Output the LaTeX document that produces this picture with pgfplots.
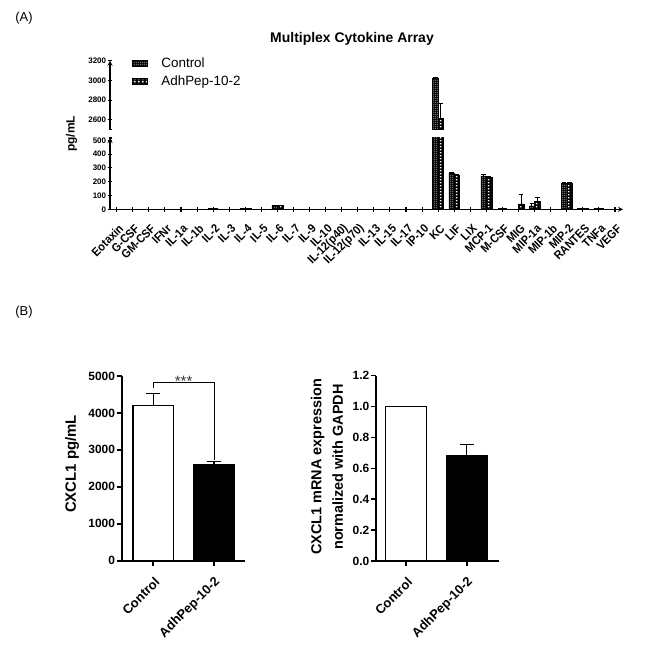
\documentclass[border=0pt]{standalone}
\usepackage{fontspec}
\setmainfont{Liberation Sans}
\newfontfamily\condsans[FakeStretch=0.9]{Liberation Sans}
\usepackage{pgfplots}
\pgfplotsset{compat=1.18}
\usepackage{pgfplotstable}
\usetikzlibrary{patterns}

\pgfdeclarepatternformonly{ctrlpat}{\pgfqpoint{0bp}{0bp}}{\pgfqpoint{2.2bp}{2.2bp}}{\pgfqpoint{2.2bp}{2.2bp}}{%
  \pgfpathrectangle{\pgfqpoint{0.6bp}{0.6bp}}{\pgfqpoint{1bp}{1bp}}\pgfusepath{fill}}
\pgfdeclarepatternformonly{adhpat}{\pgfqpoint{0bp}{0bp}}{\pgfqpoint{3.6bp}{3.2bp}}{\pgfqpoint{3.6bp}{3.2bp}}{%
  \pgfpathrectangle{\pgfqpoint{0.9bp}{0.8bp}}{\pgfqpoint{1.8bp}{1.6bp}}\pgfusepath{fill}}

\pgfplotstableread{
x ctrl ce adh ae
0 0 0 0 0
1 0 0 0 0
2 0 0 0 0
3 0 0 0 0
4 0 0 0 0
5 0 0 0 0
6 3 1 3 1
7 0 0 0 0
8 3 1 4 1
9 0 0 0 0
10 28 3 27 3
11 0 0 0 0
12 0 0 0 0
13 0 0 0 0
14 0 0 0 0
15 0 0 0 0
16 0 0 0 0
17 0 0 0 0
18 0 0 0 0
19 0 0 0 0
20 3020 10 2615 155
21 262 5 245 5
22 0 0 0 0
23 243 6 233 6
24 2 1 2 1
25 0 0 40 70
26 24 20 55 30
27 0 0 0 0
28 188 6 186 6
29 6 2 6 2
30 3 1 3 1
31 1 0 1 0
}\dataA

\pgfplotsset{
  /pgfplots/ybar legend/.style={/pgfplots/legend image code/.code={%
     \draw[##1,line width=0.6bp] (0bp,-3bp) rectangle (14.5bp,3bp);}},
  ctrlbar/.style={fill=black, draw=black, line width=0.5bp, postaction={pattern=ctrlpat, pattern color=white}},
  adhbar/.style={fill=black, draw=black, line width=0.5bp, postaction={pattern=adhpat, pattern color=white}},
  errA/.style={error bars/.cd, y dir=plus, y explicit, error bar style={line width=1bp, black}, error mark options={rotate=90, line width=1bp, black, mark size=2.2bp}},
  errB/.style={error bars/.cd, y dir=plus, y explicit, error bar style={line width=1.3bp, black}, error mark options={rotate=90, line width=1.3bp, black, mark size=6.8bp}},
  panelA/.style={scale only axis, width=513bp, xmin=-0.417, xmax=31.5,
    axis line style={-, line width=1.2bp},
    tick align=outside, major tick length=4.5bp, tick style={line width=1.1bp, black},
    yticklabel style={font=\fontsize{8}{9}\selectfont\bfseries, inner sep=1.5bp},
    /pgf/number format/assume math mode=true, /pgf/number format/1000 sep={},
    scaled y ticks=false, ybar, bar width=0.34},
  panelB/.style={scale only axis, width=123bp, height=185bp,
    axis lines=left, axis line style={-, line width=1.8bp},
    tick align=outside, major tick length=5bp, tick style={line width=1.6bp, black},
    xtick={0,1}, xticklabels={Control,AdhPep-10-2},
    xticklabel style={xshift=4bp, rotate=45, anchor=east, inner sep=0bp, font=\fontsize{13}{14}\selectfont\bfseries},
    xticklabel shift=14bp,
    yticklabel style={font=\fontsize{12}{13}\selectfont\bfseries, inner sep=1.5bp},
    /pgf/number format/assume math mode=true, /pgf/number format/1000 sep={},
    scaled y ticks=false, ybar, bar width=0.67, clip=false},
}

\begin{document}
\begin{tikzpicture}
\useasboundingbox (0,0) rectangle (663bp,652bp);
% panel labels and title
\node[font=\fontsize{13}{14}\selectfont] at (24bp,634bp) {(A)};
\node[font=\fontsize{13}{14}\selectfont] at (24bp,340bp) {(B)};
\node[font=\fontsize{14}{15}\selectfont\bfseries] at (352bp,613.5bp) {Multiplex Cytokine Array};
\node[rotate=90, font=\fontsize{12}{13}\selectfont\bfseries] at (71.5bp,518bp) {pg/mL};

% lower segment
\begin{axis}[panelA,
  at={(110bp,442.7bp)}, anchor=south west, height=71.3bp,
  ymin=0, ymax=517, axis lines=left,
  xtick={0,...,31},
  xticklabels={Eotaxin,G-CSF,GM-CSF,IFNr,IL-1a,IL-1b,IL-2,IL-3,IL-4,IL-5,IL-6,IL-7,IL-9,IL-10,IL-12(p40),IL-12(p70),IL-13,IL-15,IL-17,IP-10,KC,LIF,LIX,MCP-1,M-CSF,MIG,MIP-1a,MIP-1b,MIP-2,RANTES,TNFa,VEGF},
  xticklabel style={xshift=4.5bp, rotate=45, anchor=east, inner sep=0bp, font=\condsans\fontsize{12}{13}\selectfont\bfseries},
  xticklabel shift=15bp,
  ytick={0,100,200,300,400,500},
  extra y ticks={517}, extra y tick labels={}, extra y tick style={major tick length=3bp},
]
\addplot[ctrlbar, bar shift=-0.17, errA] table[x=x, y=ctrl, y error=ce]{\dataA};
\addplot[adhbar, bar shift=0.17, errA] table[x=x, y=adh, y error=ae]{\dataA};
\end{axis}

% upper segment (only KC reaches it)
\begin{axis}[panelA,
  at={(110bp,522.7bp)}, anchor=south west, height=68.6bp,
  ymin=2505, ymax=3200, axis x line=none, axis y line=left,
  ytick={2600,2800,3000,3200},
  extra y ticks={2505}, extra y tick labels={}, extra y tick style={major tick length=3bp},
  legend style={at={(axis description cs:0.043,1.07)}, anchor=north west, draw=none, fill=none,
    font=\fontsize{13.5}{15}\selectfont, cells={anchor=west}, inner sep=0bp, row sep=2bp, column sep=12bp},
]
\addplot[ctrlbar, bar shift=-0.17, skip coords between index={0}{20}, skip coords between index={21}{40}, errA] table[x=x, y=ctrl, y error=ce]{\dataA};
\addlegendentry{Control}
\addplot[adhbar, bar shift=0.17, skip coords between index={0}{20}, skip coords between index={21}{40}, errA] table[x=x, y=adh, y error=ae]{\dataA};
\addlegendentry{AdhPep-10-2}
\end{axis}

% panel B left
\node[rotate=90, font=\fontsize{15}{16}\selectfont\bfseries] at (72bp,188bp) {CXCL1 pg/mL};
\begin{axis}[panelB,
  at={(121.7bp,91.3bp)}, anchor=south west, width=123.3bp, height=184.7bp,
  xmin=-0.52, xmax=1.51, ymin=0, ymax=5000,
  ytick={0,1000,2000,3000,4000,5000},
]
\addplot[fill=white, draw=black, line width=1.3bp, bar shift=0pt, errB] coordinates {(0,4200) +- (0,320)};
\addplot[fill=black, draw=black, line width=1.3bp, bar shift=0pt, errB] coordinates {(1,2590) +- (0,100)};
\draw[line width=0.9bp] (axis cs:0,4676) -- (axis cs:0,4829) -- (axis cs:1,4829) -- (axis cs:1,2726);
\node[anchor=base, font=\fontsize{15}{16}\selectfont, text=black!80] at (axis cs:0.5,4713) {***};
\end{axis}

% panel B right
\node[rotate=90, align=center, font=\fontsize{14.5}{21.5}\selectfont\bfseries] at (327bp,185bp) {CXCL1 mRNA expression\\normalized with GAPDH};
\begin{axis}[panelB,
  at={(376bp,91bp)}, anchor=south west, width=123bp, height=185.3bp,
  xmin=-0.494, xmax=1.53, ymin=0, ymax=1.2,
  ytick={0,0.2,0.4,0.6,0.8,1.0,1.2},
  yticklabel style={/pgf/number format/.cd, fixed, fixed zerofill, precision=1},
]
\addplot[fill=white, draw=black, line width=1.3bp, bar shift=0pt] coordinates {(0,1.0)};
\addplot[fill=black, draw=black, line width=1.3bp, bar shift=0pt, errB] coordinates {(1,0.68) +- (0,0.075)};
\end{axis}
\end{tikzpicture}
\end{document}
